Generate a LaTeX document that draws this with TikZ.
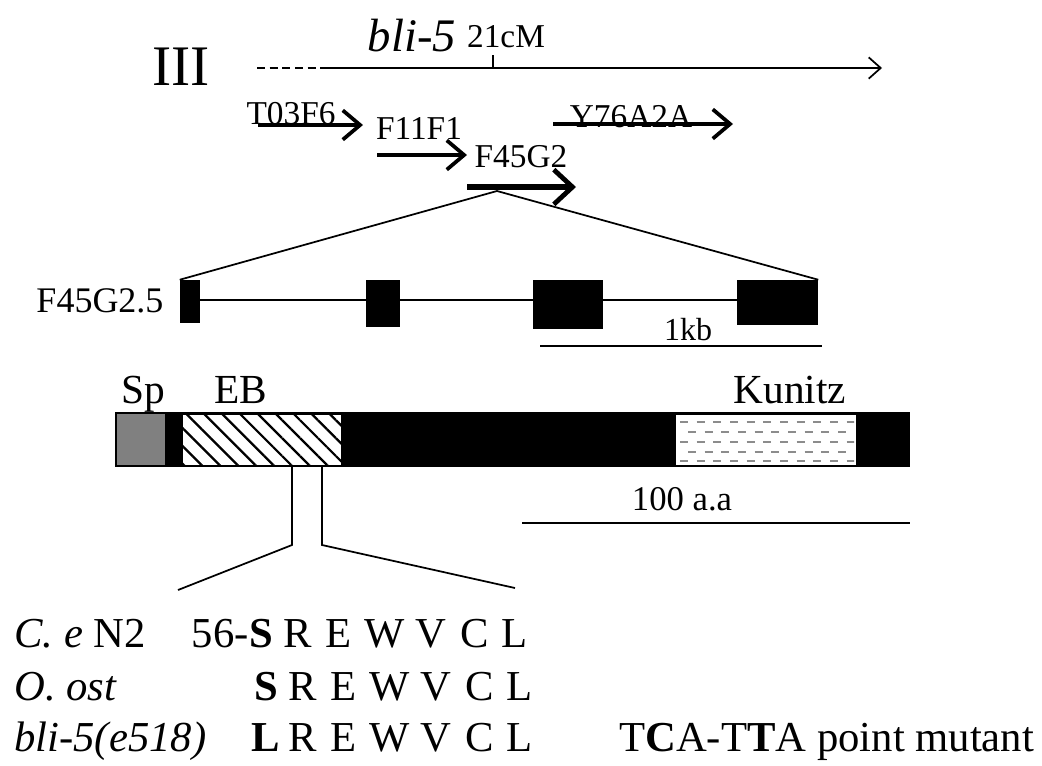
\documentclass[tikz,border=0pt]{standalone}
\usepackage{fontspec}
\setmainfont{Liberation Serif}
\usetikzlibrary{arrows.meta,patterns.meta}
\newcommand\fsz[1]{\fontsize{#1}{#1}\selectfont}
\begin{document}
\begin{tikzpicture}[x=0.75pt,y=-0.75pt,
  txt/.style={inner sep=0pt,anchor=base},
  clone/.style={line width=3pt,-{Straight Barb[length=13pt,width=22pt,line width=2.8pt]}},
  bigclone/.style={line width=5pt,-{Straight Barb[length=14pt,width=26pt,line width=3.6pt]}},
  thin/.style={line width=1.3pt},
  exon/.style={fill=black,inner sep=0pt},
  clbl/.style={inner sep=0pt,anchor=base,font=\fsz{25}},
  seq/.style={inner sep=0pt,anchor=base,font=\fsz{32}},
  kdash/.style={black!45,line width=1.5pt,dash pattern=on 6pt off 6.5pt}]
\useasboundingbox (0,0) rectangle (1042,765);
% chromosome
\node[txt,font=\fsz{43}] (chr) at (181,85) {III};
\coordinate (ax0) at (257,68);
\coordinate (ax1) at (323,68);
\coordinate (ax2) at (882,68);
\coordinate (tk) at (493,68);
\coordinate (tktop) at (493,55);
\draw[thin,dash pattern=on 6pt off 3.5pt] (ax0) -- (ax1);
\draw[thin,-{Straight Barb[length=9pt,width=16pt]}] (ax1) -- (ax2);
\draw[thin] (tk) -- (tktop);
\node[txt,font=\fsz{35}\itshape] (bli) at (412,51) {bli-5};
\node[txt,font=\fsz{25}] (cm) at (506,47) {21cM};
% clones
\node[clbl] (t03) at (291,124) {T03F6};
\node[clbl] (f11) at (419,139) {F11F1};
\node[clbl] (y76) at (631,127) {Y76A2A};
\node[clbl] (f45) at (521,167) {F45G2};
\coordinate (t03a) at (258,125); \coordinate (t03b) at (363,125);
\coordinate (f11a) at (377,155); \coordinate (f11b) at (467,155);
\coordinate (y76a) at (553,124); \coordinate (y76b) at (733,124);
\coordinate (f45a) at (467,187); \coordinate (f45b) at (576,187);
\draw[clone] (t03a) -- (t03b);
\draw[clone] (f11a) -- (f11b);
\draw[clone] (y76a) -- (y76b);
\draw[bigclone] (f45a) -- (f45b);
\coordinate (zoomsrc) at (497,191);
% gene model
\node[txt,font=\fsz{27}] (gname) at (100,312) {F45G2.5};
\node[exon,minimum width=15pt,minimum height=32.25pt] (e1) at (190,301.5) {};
\node[exon,minimum width=25.5pt,minimum height=35.25pt] (e2) at (383,303.5) {};
\node[exon,minimum width=52.5pt,minimum height=36.75pt] (e3) at (568,304.5) {};
\node[exon,minimum width=60.75pt,minimum height=33.75pt] (e4) at (777.5,302.5) {};
\coordinate (ic) at (0,300);
\draw[thin] (e1.east |- ic) -- (e2.west |- ic);
\draw[thin] (e2.east |- ic) -- (e3.west |- ic);
\draw[thin] (e3.east |- ic) -- (e4.west |- ic);
\draw[thin] (zoomsrc) -- (e1.north west);
\draw[thin] (zoomsrc) -- (e4.north east);
\node[txt,font=\fsz{24}] (kb) at (688,340) {1kb};
\coordinate (kb0) at (540,346); \coordinate (kb1) at (822,346);
\draw[line width=1.6pt] (kb0) -- (kb1);
% protein
\node[txt,font=\fsz{31}] (sp) at (143,403) {Sp};
\node[txt,font=\fsz{31}] (eb) at (241,403) {EB};
\node[txt,font=\fsz{31}] (kun) at (790,403) {Kunitz};
\fill[black] (115,412) rectangle (910,467);
\fill[black!50] (117,414) rectangle (165,465);
\fill[white] (183,415) rectangle (341,465);
\fill[pattern={Lines[angle=-45,distance=9.5pt,line width=1.7pt]},pattern color=black] (183,415) rectangle (341,465);
\fill[white] (676,415) rectangle (856,465);
\begin{scope}
\clip (678,415) rectangle (854,465);
\draw[kdash] (680,422) -- (860,422);
\draw[kdash] (688,432) -- (860,432);
\draw[kdash] (680,442) -- (860,442);
\draw[kdash] (688,452) -- (860,452);
\draw[kdash] (680,461) -- (860,461);
\end{scope}
\coordinate (pa) at (292,467); \coordinate (pb) at (292,545); \coordinate (pc) at (178,590);
\coordinate (qa) at (322,467); \coordinate (qb) at (322,545); \coordinate (qc) at (515,588);
\draw[thin] (pa) -- (pb) -- (pc);
\draw[thin] (qa) -- (qb) -- (qc);
\node[txt,font=\fsz{26}] (aa) at (682,510) {100 a.a};
\coordinate (aa0) at (522,523); \coordinate (aa1) at (910,523);
\draw[line width=1.6pt] (aa0) -- (aa1);
% sequences
\node[seq,anchor=base west] (r1) at (14,647) {\itshape C. e\/\upshape\ N2};
\node[seq,anchor=base west] (r2) at (14,700) {\itshape O. ost};
\node[seq,anchor=base west] (r3) at (14,751) {\itshape bli-5(e518)};
\node[seq,anchor=base east] (n56) at (249,647) {56-};
\foreach \x/\c [count=\i] in {303/R,344/E,390/W,436/V,480/C,520/L}{
  \node[seq] (a\i) at (\x-5,647) {\c};
  \node[seq] (b\i) at (\x,700) {\c};
  \node[seq] (c\i) at (\x,751) {\c};
}
\node[seq] (a0) at (261,647) {\bfseries S};
\node[seq] (b0) at (266,700) {\bfseries S};
\node[seq] (c0) at (266,751) {\bfseries L};
\node[seq,anchor=base west] (mut) at (619,751) {T\textbf{C}A-T\textbf{T}A point mutant};
\end{tikzpicture}
\end{document}
